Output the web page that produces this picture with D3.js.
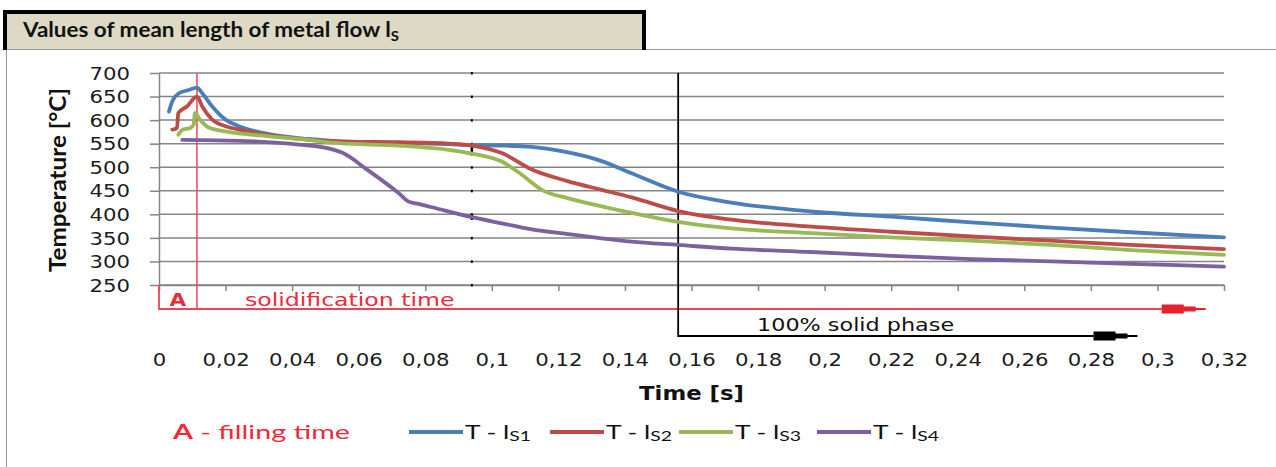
<!DOCTYPE html>
<html>
<head>
<meta charset="utf-8">
<script src="https://cdn.jsdelivr.net/npm/d3@7"></script>
<style>
  body { margin: 0; background: #fff; }
  svg { display: block; }
</style>
</head>
<body>
<script>
// Chart settings
const width = 1276;
const height = 467;
const plot = { left: 159, right: 1224, top: 73, bottom: 285 };

// Axis ticks
const timeTicks = [0, 0.02, 0.04, 0.06, 0.08, 0.1, 0.12, 0.14, 0.16, 0.18, 0.2, 0.22, 0.24, 0.26, 0.28, 0.3, 0.32];
const tempTicks = [250, 300, 350, 400, 450, 500, 550, 600, 650, 700];

// Series: time [s] and temperature [°C]
const ls1Time = [0.003, 0.004, 0.006, 0.009, 0.0114, 0.013, 0.016, 0.020, 0.024, 0.034, 0.045, 0.054, 0.072, 0.087, 0.094, 0.103, 0.112, 0.121, 0.133, 0.142, 0.156, 0.172, 0.196, 0.220, 0.244, 0.268, 0.292, 0.320];
const ls1Temp = [618, 640, 657, 664, 669, 657, 629, 601, 587, 569, 560, 555, 552, 549, 547, 546, 543, 534, 513, 487, 448, 425, 406, 395, 383, 372, 362, 351];

const ls2Time = [0.004, 0.0054, 0.0058, 0.0084, 0.0114, 0.013, 0.016, 0.020, 0.024, 0.034, 0.045, 0.054, 0.072, 0.087, 0.094, 0.103, 0.112, 0.123, 0.133, 0.142, 0.156, 0.174, 0.196, 0.220, 0.244, 0.268, 0.292, 0.320];
const ls2Temp = [580, 583, 615, 629, 650, 629, 601, 587, 580, 567, 558, 555, 553, 550, 546, 530, 495, 470, 452, 436, 407, 387, 374, 363, 353, 344, 335, 326];

const ls3Time = [0.0058, 0.0072, 0.0093, 0.0104, 0.0108, 0.0123, 0.0153, 0.020, 0.034, 0.045, 0.054, 0.072, 0.087, 0.094, 0.103, 0.109, 0.115, 0.123, 0.133, 0.142, 0.156, 0.172, 0.196, 0.220, 0.244, 0.268, 0.292, 0.320];
const ls3Temp = [569, 580, 583, 590, 615, 601, 583, 576, 565, 558, 551, 546, 537, 529, 512, 484, 452, 434, 417, 403, 384, 370, 360, 351, 344, 335, 324, 314];

const ls4Time = [0.007, 0.024, 0.042, 0.052, 0.055, 0.0625, 0.072, 0.075, 0.078, 0.082, 0.094, 0.103, 0.112, 0.123, 0.133, 0.142, 0.156, 0.172, 0.196, 0.220, 0.244, 0.268, 0.292, 0.320];
const ls4Temp = [558, 556, 548, 538, 531, 495, 445, 427, 422, 415, 394, 381, 368, 358, 349, 342, 335, 327, 320, 312, 305, 300, 295, 289];

const seriesSubs = ['S1', 'S2', 'S3', 'S4'];
const seriesColors = ['#4a7ebb', '#be4b48', '#98b954', '#7d60a0'];

// Annotations
const fillingTime = 0.0114;
const solidTime = 0.156;
const redArrowEnd = 0.3145;
const blackArrowEnd = 0.294;
const markTime = 0.094;

const series = [
  { time: ls1Time, temp: ls1Temp },
  { time: ls2Time, temp: ls2Temp },
  { time: ls3Time, temp: ls3Temp },
  { time: ls4Time, temp: ls4Temp }
].map((s, i) => ({
  sub: seriesSubs[i],
  color: seriesColors[i],
  points: s.time.map((t, j) => ({ t: t, v: s.temp[j] }))
}));

const svg = d3.select('body')
  .append('svg')
  .attr('width', width)
  .attr('height', height);

// Frame of the chart and title bar
svg.append('rect')
  .attr('x', 6.5).attr('y', 49.5)
  .attr('width', width + 10).attr('height', height)
  .attr('fill', '#fff').attr('stroke', '#9a9a9a');

svg.append('rect')
  .attr('x', 5).attr('y', 12)
  .attr('width', 639).attr('height', 37)
  .attr('fill', '#ddd9c4');
svg.append('path')
  .attr('d', 'M5,50V12H644V50')
  .attr('fill', 'none').attr('stroke', '#000').attr('stroke-width', 4);

const title = svg.append('text')
  .attr('x', 23).attr('y', 37)
  .attr('textLength', 376).attr('lengthAdjust', 'spacingAndGlyphs')
  .style('font', 'bold 21px Lato')
  .attr('fill', '#111');
title.append('tspan').text('Values of mean length of metal flow l');
title.append('tspan').attr('dy', 4).style('font-size', '14px').text('S');

// Scales
const x = d3.scaleLinear().domain([0, 0.32]).range([plot.left, plot.right]);
const y = d3.scaleLinear().domain([250, 700]).range([plot.bottom, plot.top]);

// Gridlines
svg.append('g')
  .selectAll('line')
  .data(tempTicks)
  .join('line')
  .attr('x1', plot.left).attr('x2', plot.right)
  .attr('y1', d => y(d)).attr('y2', d => y(d))
  .attr('stroke', '#858585').attr('stroke-width', 1.5);

// Vertical axis
svg.append('g')
  .attr('transform', `translate(${plot.left}, 0)`)
  .call(d3.axisLeft(y).tickValues(tempTicks).tickSize(9).tickSizeOuter(0))
  .call(g => g.select('.domain').attr('stroke', '#858585').attr('stroke-width', 1.5))
  .call(g => g.selectAll('.tick line').attr('stroke', '#858585').attr('stroke-width', 1.5))
  .call(g => g.selectAll('.tick text')
    .attr('x', -29 / 1.25)
    .attr('dy', '0.36em')
    .attr('transform', 'scale(1.25,1)')
    .attr('fill', '#1c1c1c')
    .style('font', '17px "DejaVu Sans"'));

// Horizontal axis
svg.append('g')
  .attr('transform', `translate(0, ${plot.bottom})`)
  .call(d3.axisBottom(x).tickValues(timeTicks).tickSize(6).tickSizeOuter(0)
    .tickFormat(d => String(d).replace('.', ',')))
  .call(g => g.select('.domain').attr('stroke', '#858585').attr('stroke-width', 1.5))
  .call(g => g.selectAll('.tick line').attr('stroke', '#858585').attr('stroke-width', 1.5))
  .call(g => g.selectAll('.tick text')
    .attr('y', 81).attr('dy', 0)
    .attr('transform', 'scale(1.25,1)')
    .attr('fill', '#1c1c1c')
    .style('font', '17px "DejaVu Sans"'));

// Axis titles
svg.append('text')
  .attr('transform', 'translate(66, 180) rotate(-90)')
  .attr('text-anchor', 'middle')
  .attr('textLength', 184).attr('lengthAdjust', 'spacingAndGlyphs')
  .style('font', 'bold 22px Lato')
  .attr('fill', '#111')
  .text('Temperature [°C]');

svg.append('text')
  .attr('transform', `translate(${(plot.left + plot.right) / 2}, 400) scale(1.2,1)`)
  .attr('text-anchor', 'middle')
  .style('font', 'bold 19px "DejaVu Sans"')
  .attr('fill', '#111')
  .text('Time [s]');

// Filling time box (red)
const red = '#ee4455';
const yBox = 309;
svg.append('path')
  .attr('d', `M${x(0)},${plot.bottom}V${yBox}H${x(redArrowEnd) - 44}`)
  .attr('fill', 'none').attr('stroke', red).attr('stroke-width', 1.8);
svg.append('line')
  .attr('x1', x(fillingTime)).attr('x2', x(fillingTime))
  .attr('y1', plot.top).attr('y2', yBox)
  .attr('stroke', red).attr('stroke-width', 1.5);

function arrow(xe, yy, color) {
  svg.append('path')
    .attr('d', `M${xe - 44},${yy - 4.5}H${xe - 22}V${yy - 2.5}H${xe - 10}V${yy - 1}H${xe}V${yy + 1}H${xe - 10}V${yy + 2.5}H${xe - 22}V${yy + 4.5}H${xe - 44}Z`)
    .attr('fill', color);
}
arrow(x(redArrowEnd), yBox, '#e8202c');

svg.append('text')
  .attr('transform', `translate(${(x(0) + x(fillingTime)) / 2}, 306) scale(1.2,1)`)
  .attr('text-anchor', 'middle')
  .style('font', 'bold 18px "DejaVu Sans"')
  .attr('fill', '#ee2a3a')
  .text('A');

svg.append('text')
  .attr('transform', 'translate(245, 306) scale(1.31,1)')
  .style('font', '18px "DejaVu Sans"')
  .attr('fill', '#ee2a3a')
  .text('solidification time');

// 100% solid phase (black)
const yBlack = 336;
svg.append('path')
  .attr('d', `M${x(solidTime)},${plot.top}V${yBlack}H${x(blackArrowEnd) - 44}`)
  .attr('fill', 'none').attr('stroke', '#000').attr('stroke-width', 1.8);
arrow(x(blackArrowEnd), yBlack, '#000');

svg.append('text')
  .attr('transform', 'translate(757, 331) scale(1.24,1)')
  .style('font', '18px "DejaVu Sans"')
  .attr('fill', '#111')
  .text('100% solid phase');

// Small black marks
svg.append('g')
  .selectAll('rect')
  .data(tempTicks)
  .join('rect')
  .attr('x', x(markTime) - 1).attr('y', d => y(d) - 1)
  .attr('width', 2).attr('height', 2.5)
  .attr('fill', '#000');
svg.append('line')
  .attr('x1', x(markTime)).attr('x2', x(markTime))
  .attr('y1', y(551)).attr('y2', y(525))
  .attr('stroke', '#000').attr('stroke-width', 2.5);
svg.append('line')
  .attr('x1', x(markTime)).attr('x2', x(markTime))
  .attr('y1', y(401)).attr('y2', y(388))
  .attr('stroke', '#000').attr('stroke-width', 2.5);

// Curves
const line = d3.line()
  .x(d => x(d.t))
  .y(d => y(d.v))
  .curve(d3.curveMonotoneX);

svg.append('g')
  .selectAll('path')
  .data(series)
  .join('path')
  .attr('d', d => line(d.points))
  .attr('fill', 'none')
  .attr('stroke', d => d.color)
  .attr('stroke-width', 3.8)
  .attr('stroke-linecap', 'round')
  .attr('stroke-linejoin', 'round');

// Legend
const legendY = 432;
const fillText = svg.append('text')
  .attr('x', 173).attr('y', legendY + 7)
  .attr('textLength', 177).attr('lengthAdjust', 'spacingAndGlyphs')
  .style('font', '20px Lato')
  .attr('fill', '#ee2a3a');
fillText.append('tspan').style('font-weight', 'bold').text('A');
fillText.append('tspan').text(' - filling time');

const legendX = [409, 550, 679, 817];
const legend = svg.append('g')
  .selectAll('g')
  .data(series)
  .join('g')
  .attr('transform', (d, i) => `translate(${legendX[i]}, ${legendY})`);
legend.append('line')
  .attr('x1', 0).attr('x2', 54)
  .attr('stroke', d => d.color)
  .attr('stroke-width', 3.8);
const lt = legend.append('text')
  .attr('x', 56).attr('y', 7)
  .attr('textLength', 66).attr('lengthAdjust', 'spacingAndGlyphs')
  .style('font', '19px Lato')
  .attr('fill', '#111');
lt.append('tspan').text('T - l');
lt.append('tspan').attr('dy', 2).style('font-size', '14px').text(d => d.sub);
</script>
</body>
</html>
